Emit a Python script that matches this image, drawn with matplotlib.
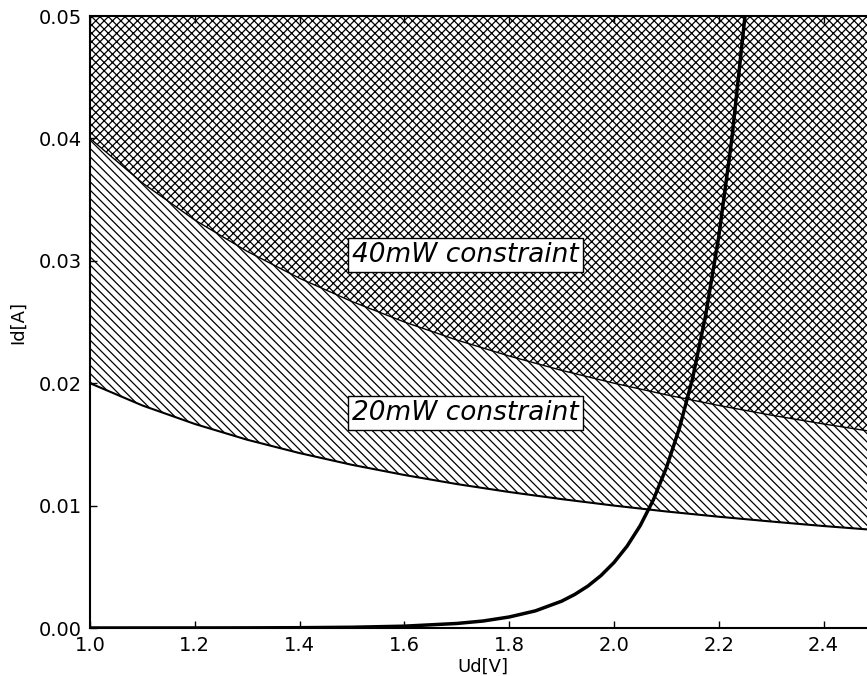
import matplotlib
matplotlib.use('Agg')
import matplotlib.pyplot as plt

# power constraint curves Id vs Ud
u_p = [1.0, 1.1, 1.2, 1.3, 1.4, 1.5, 1.6, 1.7, 1.8, 1.9, 2.0, 2.1, 2.2, 2.3, 2.4, 2.5]
i_20mw = [0.0200, 0.01818, 0.01667, 0.01538, 0.01429, 0.01333, 0.0125, 0.01176,
          0.01111, 0.01053, 0.0100, 0.00952, 0.00909, 0.00870, 0.00833, 0.0080]
i_40mw = [0.0400, 0.03636, 0.03333, 0.03077, 0.02857, 0.02667, 0.0250, 0.02353,
          0.02222, 0.02105, 0.0200, 0.01905, 0.01818, 0.01739, 0.01667, 0.0160]
i_top = [0.05] * len(u_p)

# diode characteristic
u_d = [1.0, 1.1, 1.2, 1.3, 1.4, 1.5, 1.6, 1.7, 1.75, 1.8, 1.85, 1.9, 1.925, 1.95,
       1.975, 2.0, 2.025, 2.05, 2.075, 2.1, 2.125, 2.15, 2.175, 2.2, 2.225, 2.25]
i_d = [7e-7, 1.7e-6, 4.2e-6, 1.0e-5, 2.5e-5, 6.1e-5, 1.5e-4, 3.7e-4, 5.7e-4, 9.0e-4,
       1.40e-3, 2.19e-3, 2.74e-3, 3.42e-3, 4.28e-3, 5.35e-3, 6.69e-3, 8.36e-3,
       0.01046, 0.0131, 0.01635, 0.0204, 0.02557, 0.0320, 0.0400, 0.0500]

labels = ['40mW constraint', '20mW constraint']
label_pos = [(1.5, 0.0299), (1.5, 0.0170)]

plt.rcParams['hatch.linewidth'] = 0.9
fig = plt.figure(figsize=(8.67, 6.76), dpi=100)
ax = fig.add_axes([90/867, 1-628/676, 786/867, 612/676])

ax.fill_between(u_p, i_40mw, i_top, facecolor='white', edgecolor='black',
                hatch='xxxx', linewidth=0)
ax.fill_between(u_p, i_20mw, i_40mw, facecolor='white', edgecolor='black',
                hatch='\\\\\\\\', linewidth=0)
ax.plot(u_p, i_20mw, color='black', lw=1.5)
ax.plot(u_p, i_40mw, color='black', lw=1.0)
ax.plot(u_d, i_d, color='black', lw=2.5)

for t, (x, y) in zip(labels, label_pos):
    ax.text(x, y, t, fontsize=19, style='italic', ha='left', va='baseline',
            bbox=dict(facecolor='white', edgecolor='black', pad=3))

ax.set_xlim(1.0, 2.5)
ax.set_ylim(0, 0.05)
ax.set_xticks([1.0, 1.2, 1.4, 1.6, 1.8, 2.0, 2.2, 2.4])
ax.set_yticks([0.0, 0.01, 0.02, 0.03, 0.04, 0.05])
ax.set_yticklabels(['0.00', '0.01', '0.02', '0.03', '0.04', '0.05'])
ax.tick_params(direction='in', top=True, right=True, length=5, width=1,
               labelsize=14, pad=6)
for s in ax.spines.values():
    s.set_linewidth(1.5)
ax.set_xlabel('Ud[V]', fontsize=13, labelpad=2)
ax.set_ylabel('Id[A]', fontsize=13, labelpad=8)

fig.savefig('out.png', dpi=100)
